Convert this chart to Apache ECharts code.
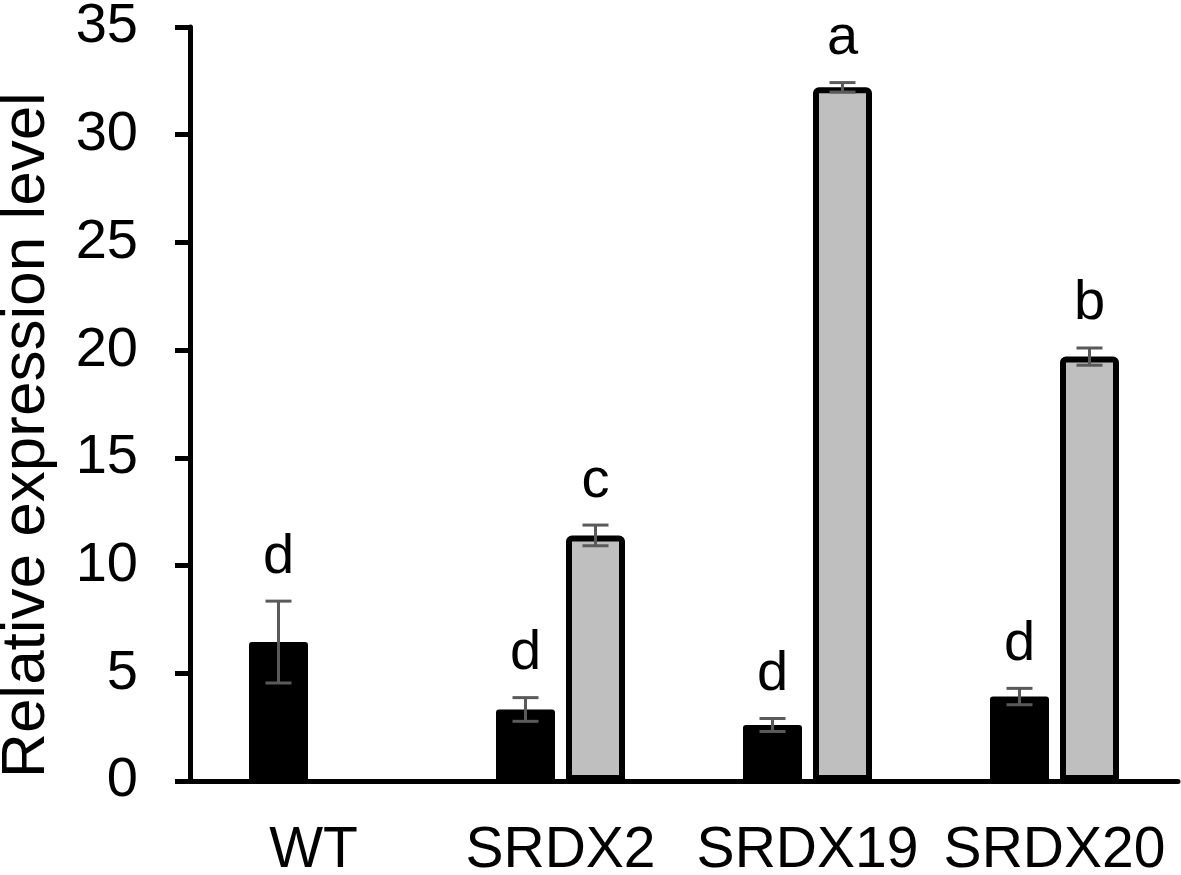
<!DOCTYPE html>
<html>
<head>
  <meta charset="UTF-8">
  <title>Relative expression level</title>
  <style>
    html, body { margin: 0; padding: 0; background: #fff; }
    #chart { width: 1181px; height: 875px; }
  </style>
  <script src="https://cdn.jsdelivr.net/npm/echarts@6/dist/echarts.min.js"></script>
</head>
<body>
  <div id="chart"></div>
  <script>
    // values
    var categories = ['WT', 'SRDX2', 'SRDX19', 'SRDX20'];
    var blackValues = [6.45, 3.32, 2.6, 3.92];
    var blackErrors = [1.9, 0.55, 0.3, 0.38];
    var blackLetters = ['d', 'd', 'd', 'd'];
    var grayValues = [null, 11.4, 32.2, 19.7];
    var grayErrors = [null, 0.48, 0.22, 0.4];
    var grayLetters = ['', 'c', 'a', 'b'];
    var yTicks = [0, 5, 10, 15, 20, 25, 30, 35];

    var FONT = '"Liberation Sans", Arial, sans-serif';
    var barW = 59, barGapPx = 11;
    var offset = (barW + barGapPx) / 2;

    var chart = echarts.init(document.getElementById('chart'));

    // error bar + significance letter, drawn at the bar's x offset
    function errorSeries(values, errors, letters, dir) {
      var data = values.map(function (v, i) {
        return v == null ? [i, null, null, ''] : [i, v, errors[i], letters[i]];
      });
      return {
        type: 'custom',
        silent: true,
        z: 10,
        data: data,
        renderItem: function (params, api) {
          var v = api.value(1);
          if (v == null || isNaN(v)) return;
          var e = api.value(2);
          var top = api.coord([api.value(0), v + e]);
          var bot = api.coord([api.value(0), v - e]);
          var x = top[0] + dir * offset;
          var cap = 13;
          var st = { stroke: '#5a5a5a', lineWidth: 3 };
          return {
            type: 'group',
            children: [
              { type: 'line', shape: { x1: x, y1: top[1], x2: x, y2: bot[1] }, style: st },
              { type: 'line', shape: { x1: x - cap, y1: top[1], x2: x + cap, y2: top[1] }, style: st },
              { type: 'line', shape: { x1: x - cap, y1: bot[1], x2: x + cap, y2: bot[1] }, style: st },
              {
                type: 'text',
                x: x, y: top[1] - 16,
                style: {
                  text: data[params.dataIndex][3],
                  fontSize: 56, fontFamily: FONT, fill: '#000',
                  align: 'center', verticalAlign: 'bottom'
                }
              }
            ]
          };
        }
      };
    }

    var option = {
      animation: false,
      backgroundColor: '#fff',
      grid: { left: 190, right: 3, top: 27, bottom: 94, outerBoundsMode: 'none', containLabel: false },
      xAxis: {
        type: 'category',
        data: categories,
        axisLine: { lineStyle: { color: '#000', width: 5 } },
        axisTick: { show: false },
        axisLabel: { color: '#000', fontSize: 57, fontFamily: FONT, margin: 42, interval: 0, hideOverlap: false }
      },
      yAxis: {
        type: 'value',
        min: yTicks[0],
        max: yTicks[yTicks.length - 1],
        interval: 5,
        name: 'Relative expression level',
        nameLocation: 'middle',
        nameGap: 132,
        nameTextStyle: { color: '#000', fontSize: 62, fontFamily: FONT, padding: [0, 62, 0, 0] },
        axisLine: { show: true, lineStyle: { color: '#000', width: 5 } },
        axisTick: { show: true, length: 15, lineStyle: { color: '#000', width: 5 } },
        axisLabel: { color: '#000', fontSize: 56, fontFamily: FONT, margin: 52 },
        splitLine: { show: false }
      },
      series: [
        {
          type: 'bar',
          data: blackValues,
          barWidth: barW,
          barGap: (barGapPx / barW * 100) + '%',
          itemStyle: { color: '#000', borderRadius: [3, 3, 0, 0] }
        },
        {
          type: 'bar',
          data: grayValues,
          barWidth: barW,
          itemStyle: { color: '#bfbfbf', borderColor: '#000', borderWidth: 6, borderRadius: [3, 3, 0, 0] }
        },
        errorSeries(blackValues, blackErrors, blackLetters, -1),
        errorSeries(grayValues, grayErrors, grayLetters, 1)
      ]
    };
    chart.setOption(option);
  </script>
</body>
</html>
